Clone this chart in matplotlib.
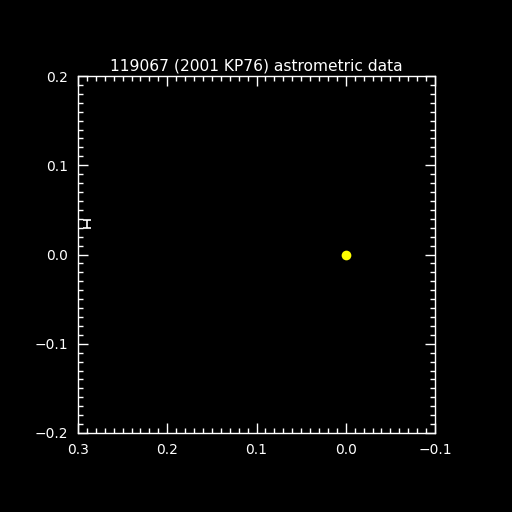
import numpy as np
import matplotlib
matplotlib.use('Agg')
import matplotlib.pyplot as plt
from matplotlib.ticker import MultipleLocator

# astrometric data (offsets)
obs_x = [0.29]
obs_y = [0.034]
obs_yerr = [0.0045]
ref_x = [0.0]
ref_y = [0.0]
title = '119067 (2001 KP76) astrometric data'


def fmt(v, p):
    if abs(v) < 1e-9:
        return '0.0'
    return ('%.1f' % v).replace('-', '\u2212')


fig = plt.figure(figsize=(5.12, 5.12), dpi=100, facecolor='black')
ax = fig.add_axes([78/512, 1 - 433/512, 357/512, 357/512], facecolor='black')

ax.errorbar(obs_x, obs_y, yerr=obs_yerr, fmt='none', ecolor='white',
            elinewidth=1.2, capsize=3, capthick=1.2)
ax.plot(ref_x, ref_y, 'o', color='yellow', markersize=7, markeredgewidth=0)

ax.set_xlim(0.3, -0.1)
ax.set_ylim(-0.2, 0.2)
ax.xaxis.set_major_locator(MultipleLocator(0.1))
ax.yaxis.set_major_locator(MultipleLocator(0.1))
ax.xaxis.set_minor_locator(MultipleLocator(0.01))
ax.yaxis.set_minor_locator(MultipleLocator(0.01))
ax.xaxis.set_major_formatter(plt.FuncFormatter(fmt))
ax.yaxis.set_major_formatter(plt.FuncFormatter(fmt))

for s in ax.spines.values():
    s.set_color('white')
    s.set_linewidth(1.0)
ax.tick_params(which='both', direction='in', top=True, right=True, colors='white',
               labelsize=10, width=1)
ax.tick_params(which='major', length=7, pad=7)
ax.tick_params(which='minor', length=3.5)

ax.set_title(title, color='white', fontsize=11.2, pad=4)

fig.savefig('out.png', dpi=100, facecolor='black')
